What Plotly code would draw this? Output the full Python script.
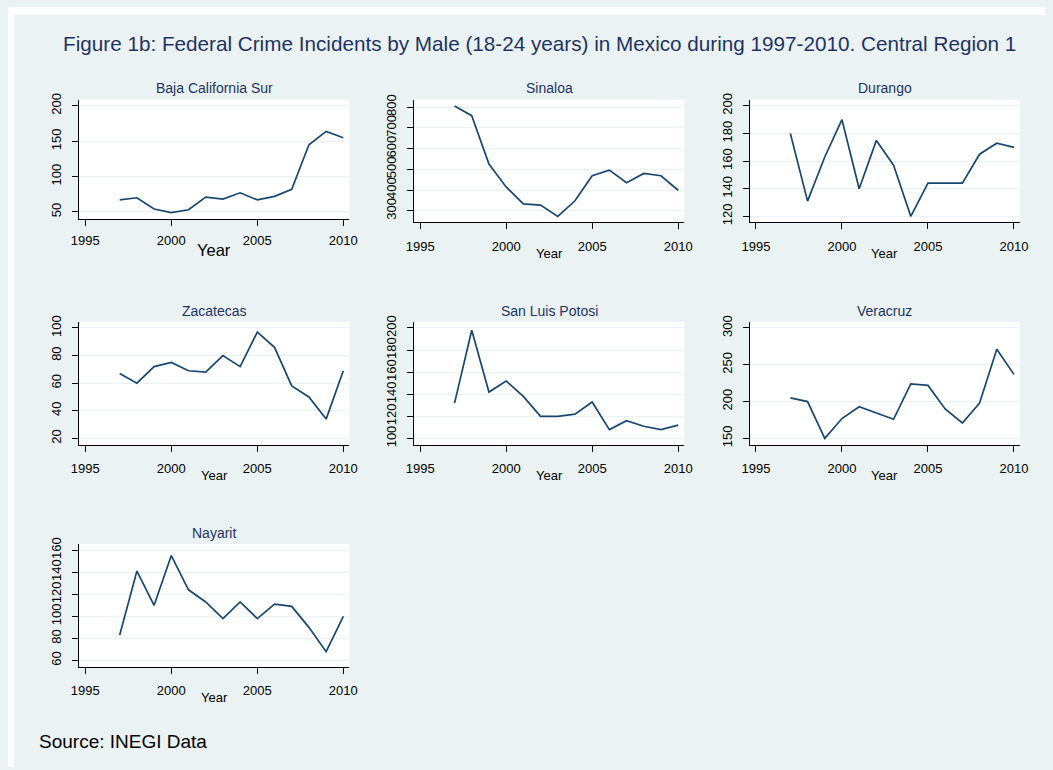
import plotly.graph_objects as go

W, H = 1053, 770

# ---- data -------------------------------------------------------------
years = [1997, 1998, 1999, 2000, 2001, 2002, 2003, 2004, 2005, 2006, 2007, 2008, 2009, 2010]

baja_california_sur = [67, 70, 54, 49, 53, 71, 68, 77, 67, 72, 82, 145, 164, 155]
sinaloa = [806, 759, 525, 415, 333, 327, 273, 348, 469, 496, 435, 480, 469, 399]
durango = [180, 131, 163, 190, 140, 175, 157, 120, 144, 144, 144, 165, 173, 170]
zacatecas = [67, 60, 72, 75, 69, 68, 80, 72, 97, 86, 58, 50, 34, 69]
san_luis_potosi = [132, 198, 142, 152, 138, 120, 120, 122, 133, 108, 116, 111, 108, 112]
veracruz = [205, 200, 150, 177, 193, 185, 176, 224, 222, 190, 171, 198, 271, 237]
nayarit = [83, 141, 110, 155, 124, 113, 98, 113, 98, 111, 109, 90, 68, 100]

states = ["Baja California Sur", "Sinaloa", "Durango", "Zacatecas",
          "San Luis Potosi", "Veracruz", "Nayarit"]
series = [baja_california_sur, sinaloa, durango, zacatecas,
          san_luis_potosi, veracruz, nayarit]

year_ticks = [1995, 2000, 2005, 2010]
y_ticks = [
    [50, 100, 150, 200],
    [300, 400, 500, 600, 700, 800],
    [120, 140, 160, 180, 200],
    [20, 40, 60, 80, 100],
    [100, 120, 140, 160, 180, 200],
    [150, 200, 250, 300],
    [60, 80, 100, 120, 140, 160],
]

title_text = ("Figure 1b: Federal Crime Incidents by Male (18-24 years) "
              "in Mexico during 1997-2010. Central Region 1")
source_text = "Source: INEGI Data"

# ---- styling ----------------------------------------------------------
FONT = "Liberation Sans, Arial, Helvetica, sans-serif"
BG = "#eaf2f3"
LINE = "#1a476f"
HEAD = "#1f3363"

col_left = [72.3, 412.3, 753.3]
row_top = [94.0, 319.0, 544.0]
PW = 274.4
PAD = 6.2  # inner margin between data extent and the axes, px


def padded(lo, hi, length):
    k = (hi - lo) / (length - 2 * PAD)
    return [lo - PAD * k, hi + PAD * k]


fig = go.Figure()
annotations = []
layout = {}

for i, (name, vals, ticks) in enumerate(zip(states, series, y_ticks)):
    r, c = divmod(i, 3)
    n = "" if i == 0 else str(i + 1)
    xa, ya = "x" + n, "y" + n
    left, top = col_left[c], row_top[r]
    first = i == 0
    ph = 120.5 if first else 124.3   # the first panel carries a larger axis title

    fig.add_trace(go.Scatter(
        x=years, y=vals, mode="lines", xaxis=xa, yaxis=ya,
        line=dict(color=LINE, width=1.7), showlegend=False,
        hoverinfo="x+y",
    ))

    xlo = min(min(years), min(year_ticks))
    xhi = max(max(years), max(year_ticks))
    ylo = min(min(vals), min(ticks))
    yhi = max(max(vals), max(ticks))

    layout["xaxis" + n] = dict(
        domain=[left / W, (left + PW) / W],
        range=padded(xlo, xhi, PW),
        anchor=ya,
        tickmode="array", tickvals=year_ticks,
        ticktext=[str(t) for t in year_ticks],
        showline=True, linecolor="black", linewidth=1,
        ticks="outside", ticklen=6, tickcolor="black", tickwidth=1,
        ticklabelstandoff=4 if first else 6,
        tickfont=dict(family=FONT, size=13, color="black"),
        showgrid=False, zeroline=False, fixedrange=True,
    )
    layout["yaxis" + n] = dict(
        domain=[1 - (top + ph) / H, 1 - top / H],
        range=padded(ylo, yhi, ph),
        anchor=xa,
        tickmode="array", tickvals=ticks, ticktext=[str(t) for t in ticks],
        tickangle=-90,
        showline=True, linecolor="black", linewidth=1,
        ticks="outside", ticklen=6, tickcolor="black", tickwidth=1,
        ticklabelstandoff=6,
        tickfont=dict(family=FONT, size=13, color="black"),
        showgrid=True, gridcolor=BG, gridwidth=1.2,
        zeroline=False, fixedrange=True,
    )

    # panel heading
    annotations.append(dict(
        text=name, x=(left + PW / 2) / W, y=1 - (top - 11.5) / H,
        xref="paper", yref="paper", xanchor="center", yanchor="middle",
        showarrow=False, font=dict(family=FONT, size=14, color=HEAD),
    ))
    # axis title
    annotations.append(dict(
        text="Year", x=(left + PW / 2) / W,
        y=1 - (top + ph + (32 if first else 31)) / H,
        xref="paper", yref="paper", xanchor="center", yanchor="middle",
        showarrow=False,
        font=dict(family=FONT, size=16.5 if first else 13, color="black"),
    ))

annotations.append(dict(
    text=title_text, x=540 / W, y=1 - 37 / H,
    xref="paper", yref="paper", xanchor="center", yanchor="middle",
    showarrow=False, font=dict(family=FONT, size=20.7, color=HEAD),
))
annotations.append(dict(
    text=source_text, x=29 / W, y=1 - 744 / H,
    xref="paper", yref="paper", xanchor="left", yanchor="middle",
    showarrow=False, font=dict(family=FONT, size=19, color="black"),
))

shapes = [
    dict(type="rect", xref="paper", yref="paper", x0=0, x1=1,
         y0=1 - 8 / H, y1=1, fillcolor="white", line=dict(width=0), layer="below"),
    dict(type="rect", xref="paper", yref="paper", x0=0, x1=6 / W,
         y0=0, y1=1, fillcolor="white", line=dict(width=0), layer="below"),
]

fig.update_layout(
    width=W, height=H,
    margin=dict(l=0, r=0, t=0, b=0),
    paper_bgcolor=BG, plot_bgcolor="white",
    font=dict(family=FONT),
    annotations=annotations, shapes=shapes,
    **layout,
)

fig.write_html("out.html")
